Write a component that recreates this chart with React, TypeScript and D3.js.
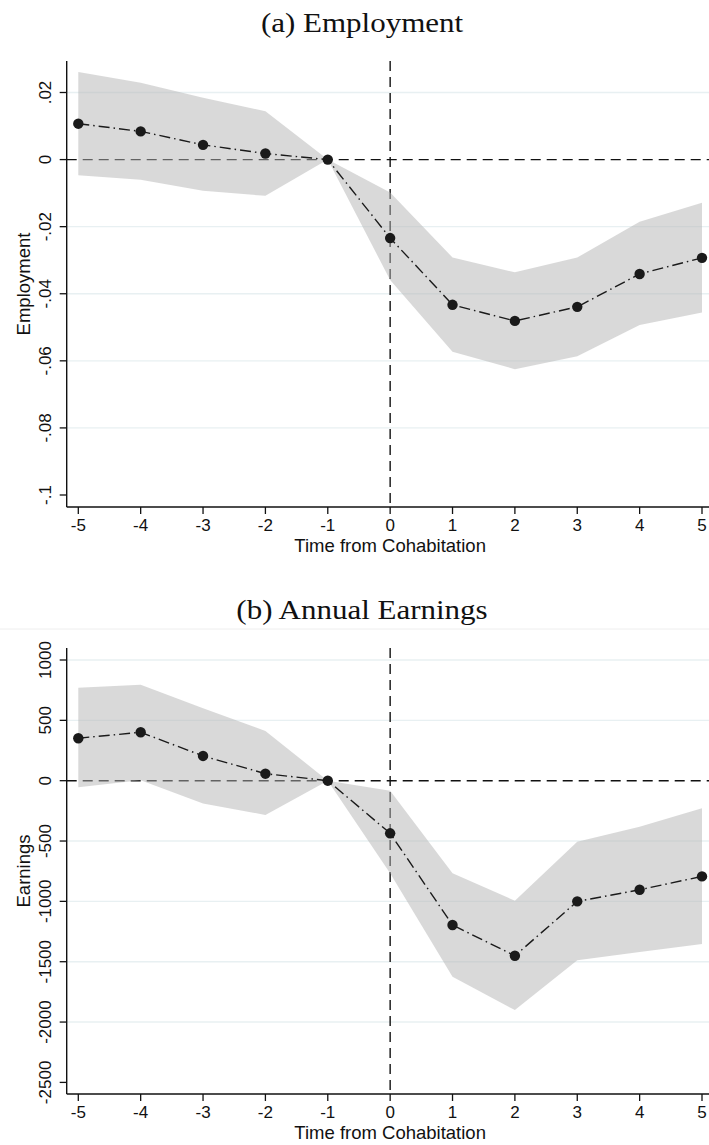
import React from 'react';
import * as d3 from 'd3';

// ---- data ----
const periods = [-5, -4, -3, -2, -1, 0, 1, 2, 3, 4, 5];

const empCoef = [0.0107, 0.0084, 0.0044, 0.0018, 0, -0.0234, -0.0433, -0.0481, -0.0439, -0.0341, -0.0293];
const empHi = [0.0261, 0.0229, 0.0184, 0.0144, 0, -0.0098, -0.0292, -0.0336, -0.0292, -0.0185, -0.0129];
const empLo = [-0.0047, -0.006, -0.0093, -0.0108, 0, -0.0359, -0.0573, -0.0625, -0.0586, -0.0493, -0.0456];

const earnCoef = [352, 401, 205, 58, 0, -436, -1196, -1451, -1000, -904, -793];
const earnHi = [771, 794, 600, 412, 0, -83, -768, -995, -506, -381, -229];
const earnLo = [-55, 3, -188, -284, 0, -768, -1625, -1901, -1487, -1420, -1354];

const empTicks = [0.02, 0, -0.02, -0.04, -0.06, -0.08, -0.1];
const empTickLabels = ['.02', '0', '-.02', '-.04', '-.06', '-.08', '-.1'];
const empGrid = [0.02, -0.02, -0.04, -0.06, -0.08];

const earnTicks = [1000, 500, 0, -500, -1000, -1500, -2000, -2500];
const earnTickLabels = ['1000', '500', '0', '-500', '-1000', '-1500', '-2000', '-2500'];
const earnGrid = [1000, 500, -500, -1000, -1500, -2000];

const xTickLabels = periods.map(String);

const W = 709;
const H = 1145;
const SANS = '"Liberation Sans", Arial, Helvetica, sans-serif';
const SERIF = '"Liberation Serif", "Times New Roman", serif';

type PanelProps = {
  title: string;
  yLabel: string;
  coef: number[];
  lo: number[];
  hi: number[];
  yDomain: [number, number];
  yRange: [number, number];
  ticks: number[];
  tickLabels: string[];
  grid: number[];
  plotTop: number;
  axisY: number;
  titleY: number;
};

const x = d3.scaleLinear().domain([-5, 5]).range([78.3, 702]);
const axisX = 66.7;

function Panel(p: PanelProps) {
  const y = d3.scaleLinear().domain(p.yDomain).range(p.yRange);
  const rows = periods.map((t, i) => ({ t, c: p.coef[i], lo: p.lo[i], hi: p.hi[i] }));
  const area = d3
    .area<any>()
    .x((d) => x(d.t))
    .y0((d) => y(d.lo))
    .y1((d) => y(d.hi));
  const line = d3
    .line<any>()
    .x((d) => x(d.t))
    .y((d) => y(d.c));
  const midY = (p.plotTop + p.axisY) / 2;
  return (
    <g>
      <text
        transform={`translate(362,${p.titleY}) scale(1.17,1)`}
        textAnchor="middle"
        fontFamily={SERIF}
        fontSize={26.5}
        fill="#111"
      >
        {p.title}
      </text>
      {p.grid.map((g) => (
        <line key={'g' + g} x1={axisX} x2={W} y1={y(g)} y2={y(g)} stroke="#e8f0f2" strokeWidth={1.4} />
      ))}
      {/* reference lines */}
      <line x1={axisX} x2={W} y1={y(0)} y2={y(0)} stroke="#111" strokeWidth={1.4} strokeDasharray="10,6" />
      <line x1={x(0)} x2={x(0)} y1={p.plotTop} y2={p.axisY} stroke="#111" strokeWidth={1.4} strokeDasharray="10,6" />
      {/* CI */}
      <path d={area(rows) || ''} fill="#b4b4b4" fillOpacity={0.5} stroke="none" />
      {/* estimates */}
      <path d={line(rows) || ''} fill="none" stroke="#1a1a1a" strokeWidth={1.4} strokeDasharray="11,4,1.5,4" />
      {rows.map((d) => (
        <circle key={'c' + d.t} cx={x(d.t)} cy={y(d.c)} r={5.2} fill="#1a1a1a" />
      ))}
      {/* y axis */}
      <line x1={axisX} x2={axisX} y1={p.plotTop} y2={p.axisY} stroke="#111" strokeWidth={1.4} />
      {p.ticks.map((t, i) => (
        <g key={'yt' + t}>
          <line x1={axisX - 7} x2={axisX} y1={y(t)} y2={y(t)} stroke="#111" strokeWidth={1.3} />
          <text
            transform={`translate(51,${y(t)}) rotate(-90)`}
            textAnchor="middle"
            fontFamily={SANS}
            fontSize={17}
            fill="#111"
          >
            {p.tickLabels[i]}
          </text>
        </g>
      ))}
      <text
        transform={`translate(30,${midY}) rotate(-90)`}
        textAnchor="middle"
        fontFamily={SANS}
        fontSize={18.5}
        fill="#111"
      >
        {p.yLabel}
      </text>
      {/* x axis */}
      <line x1={axisX} x2={W} y1={p.axisY} y2={p.axisY} stroke="#111" strokeWidth={1.4} />
      {periods.map((t, i) => (
        <g key={'xt' + t}>
          <line x1={x(t)} x2={x(t)} y1={p.axisY} y2={p.axisY + 7} stroke="#111" strokeWidth={1.3} />
          <text x={x(t)} y={p.axisY + 24} textAnchor="middle" fontFamily={SANS} fontSize={17} fill="#111">
            {xTickLabels[i]}
          </text>
        </g>
      ))}
      <text x={x(0)} y={p.axisY + 45} textAnchor="middle" fontFamily={SANS} fontSize={18.5} fill="#111">
        Time from Cohabitation
      </text>
    </g>
  );
}

export default function App() {
  return (
    <svg
      width={W}
      height={H}
      viewBox={`0 0 ${W} ${H}`}
      style={{ position: 'absolute', left: 0, top: 0, background: '#fff' }}
    >
      <rect x={0} y={0} width={W} height={H} fill="#fff" />
      <Panel
        title="(a) Employment"
        yLabel="Employment"
        coef={empCoef}
        lo={empLo}
        hi={empHi}
        yDomain={[-0.1, 0.02]}
        yRange={[495, 92.5]}
        ticks={empTicks}
        tickLabels={empTickLabels}
        grid={empGrid}
        plotTop={61}
        axisY={507}
        titleY={32}
      />
      <line x1={0} x2={W} y1={629} y2={629} stroke="#eeeeee" strokeWidth={1} />
      <Panel
        title="(b) Annual Earnings"
        yLabel="Earnings"
        coef={earnCoef}
        lo={earnLo}
        hi={earnHi}
        yDomain={[-2500, 1000]}
        yRange={[1082.4, 660]}
        ticks={earnTicks}
        tickLabels={earnTickLabels}
        grid={earnGrid}
        plotTop={648}
        axisY={1094}
        titleY={619}
      />
    </svg>
  );
}
